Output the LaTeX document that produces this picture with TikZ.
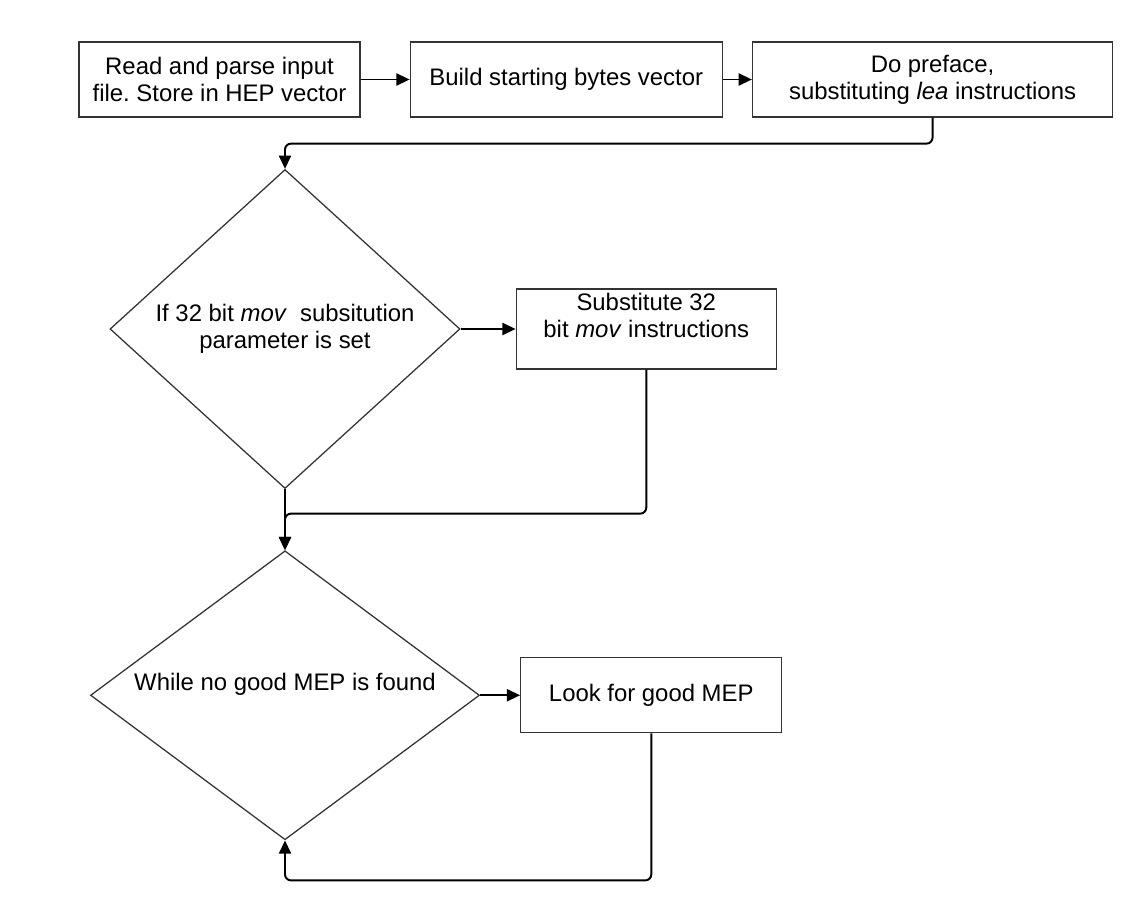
\documentclass[tikz,border=0pt]{standalone}
\usepackage{fontspec}
\setmainfont{Liberation Sans}
\usepackage{tikz}
\usetikzlibrary{
	shapes.geometric,
	arrows.meta,
	positioning
}
\frenchspacing

\begin{document}
\begin{tikzpicture}[
				stage/.style={
					rectangle, draw=black!80, line width=0.9pt,
					minimum height=1.875cm, inner sep=0pt,
					align=center, font=\fontsize{17}{19.2}\selectfont
				},
				decision/.style={
					diamond, draw=black!80, line width=0.9pt,
					inner sep=0pt, align=center,
					font=\fontsize{17}{19.2}\selectfont
				},
				arrow/.style={-{Triangle[length=0.33cm, width=0.3cm]}, line width=1.4pt, black, rounded corners=0.15cm}
				]
				
				% page frame
				\useasboundingbox (0,0) rectangle (28.25,-22.6);
				
				% read input
				\node[stage, minimum width=7.025cm] (read) at (5.4875,-1.9875) {Read and parse input\\file. Store in HEP vector};
				
				% starting bytes
				\node[stage, minimum width=7.8cm, right=1.225cm of read] (build) {Build starting bytes vector};
				
				% preface
				\node[stage, minimum width=9cm, right=0.725cm of build] (preface) {Do preface,\\substituting \textit{lea} instructions};
				
				% mov check
				\node[decision, minimum width=8.75cm, minimum height=7.975cm, aspect=1.1] (movcheck) at (7.125,-8.225) {If 32 bit \textit{mov}\ \ subsitution\\parameter is set};
				
				% mov substitution
				\node[stage, minimum width=6.5cm, minimum height=2cm, right=1.375cm of movcheck] (movsub) {Substitute 32\\bit \textit{mov} instructions\\~};
				
				% MEP loop
				\node[decision, minimum width=9.725cm, minimum height=7.225cm, aspect=1.35, below=1.525cm of movcheck] (mepcheck) {While no good MEP is found\\~};
				
				% look for MEP
				\node[stage, minimum width=6.525cm, right=1cm of mepcheck] (meplook) {Look for good MEP};
				
				% arrows
				\draw[arrow] (read)  -- (build);
				\draw[arrow] (build) -- (preface);
				\draw[arrow] (preface.south) -- ++(0,-0.65cm) -| (movcheck.north);
				\draw[arrow] (movcheck) -- (movsub);
				\draw[arrow] (movcheck) -- (mepcheck);
				\draw[arrow] (movsub.south) -- ++(0,-3.6cm) -| (mepcheck.north);
				\draw[arrow] (mepcheck) -- (meplook);
				\draw[arrow] (meplook.south) -- ++(0,-3.675cm) -| (mepcheck.south);
			\end{tikzpicture}
\end{document}
